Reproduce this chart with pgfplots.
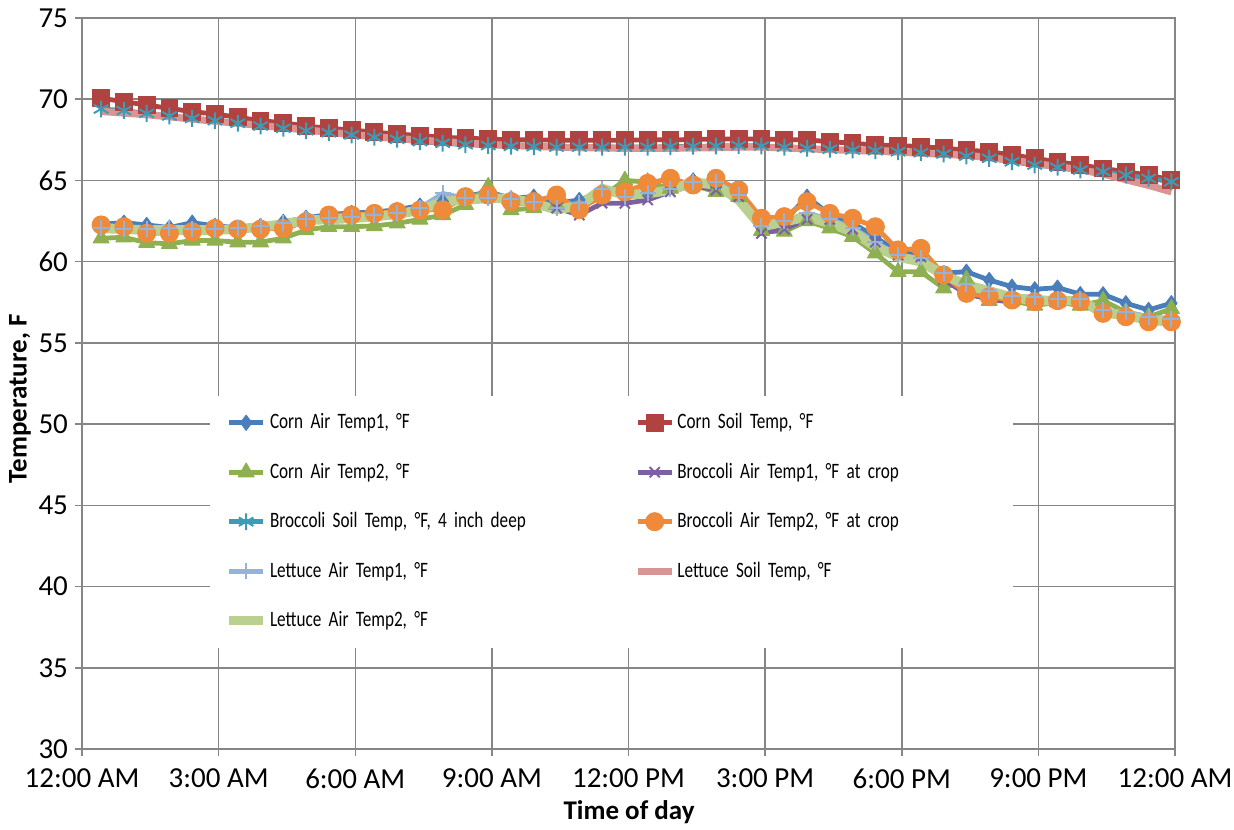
\documentclass[border=0pt]{standalone}
\usepackage{pgfplots}
\pgfplotsset{compat=1.18}
\usepackage{pgfplotstable}
\usepackage{fontspec}
\setmainfont{Carlito}
\newfontfamily\legfont[FakeStretch=0.78]{Carlito}

\definecolor{gridgray}{HTML}{868686}
\definecolor{cA}{HTML}{4A7EBB}
\definecolor{cS}{HTML}{B0423F}
\definecolor{cB}{HTML}{8FB050}
\definecolor{bA}{HTML}{7D60A0}
\definecolor{bS}{HTML}{3E9BB5}
\definecolor{bB}{HTML}{EE8A3A}
\definecolor{lA}{HTML}{95B3D7}
\definecolor{lS}{HTML}{D99594}
\definecolor{lB}{HTML}{B9D091}

\pgfplotstableread{
t ca1 cs ca2 ba1 bs ba2 la1 ls la2
0.42 62.3 70.06 61.44 62.3 69.4 62.26 62.1 69.25 62.05
0.92 62.4 69.85 61.5 62.0 69.3 62.15 62.0 69.15 62.0
1.42 62.26 69.64 61.17 61.9 69.13 61.75 62.0 69.05 61.95
1.92 62.1 69.44 61.1 61.8 68.97 61.75 62.05 68.92 61.95
2.42 62.4 69.23 61.3 61.9 68.82 61.85 62.0 68.78 61.95
2.92 62.2 69.09 61.3 62.0 68.68 62.05 62.0 68.65 61.95
3.42 62.1 68.89 61.2 61.95 68.52 62.0 62.05 68.52 62.0
3.92 62.2 68.68 61.2 62.0 68.35 62.0 62.2 68.38 62.15
4.42 62.45 68.55 61.44 62.1 68.21 62.05 62.35 68.25 62.3
4.92 62.7 68.35 61.95 62.4 68.06 62.46 62.6 68.11 62.55
5.42 62.9 68.21 62.15 62.7 67.94 62.87 62.7 67.97 62.6
5.92 63.0 68.11 62.15 62.8 67.80 62.87 62.75 67.83 62.67
6.42 63.05 67.97 62.2 62.85 67.66 62.97 62.85 67.69 62.77
6.92 63.2 67.86 62.36 62.95 67.53 63.08 63.0 67.58 62.92
7.42 63.45 67.76 62.6 63.2 67.39 63.18 63.3 67.48 63.18
7.92 63.7 67.66 62.87 63.3 67.29 63.2 64.2 67.39 63.69
8.42 64.0 67.6 63.5 63.9 67.2 64.0 63.9 67.3 63.8
8.92 64.3 67.55 64.62 64.0 67.15 64.1 63.95 67.22 63.9
9.42 63.9 67.5 63.18 63.6 67.1 63.7 63.85 67.15 63.9
9.92 64.0 67.5 63.3 63.6 67.08 63.7 63.7 67.1 63.6
10.42 63.6 67.48 63.5 63.3 67.05 64.1 63.3 67.05 63.2
10.92 63.8 67.48 63.3 62.87 67.05 63.2 63.6 67.02 63.45
11.42 64.3 67.48 64.0 63.6 67.05 64.1 64.5 67.0 64.5
11.92 64.2 67.48 65.0 63.59 67.05 64.3 64.0 66.98 64.1
12.42 64.4 67.5 64.9 63.8 67.05 64.82 64.2 66.98 64.2
12.92 64.7 67.5 64.5 64.3 67.08 65.13 64.5 66.98 64.4
13.42 65.0 67.52 64.7 64.7 67.1 64.72 64.9 67.0 64.9
13.92 64.6 67.55 64.3 64.4 67.12 65.13 64.9 67.02 64.72
14.42 64.2 67.55 64.0 64.0 67.15 64.41 64.1 67.05 63.8
14.92 62.5 67.55 61.9 61.74 67.12 62.67 62.2 67.05 62.15
15.42 62.5 67.52 61.85 62.0 67.05 62.77 62.5 67.0 62.46
15.92 64.0 67.49 62.5 62.6 66.98 63.69 63.0 66.95 62.77
16.42 62.9 67.39 62.05 62.6 66.92 62.97 62.6 66.9 62.36
16.92 62.4 67.29 61.54 62.0 66.87 62.67 62.1 66.85 61.85
17.42 61.5 67.18 60.51 61.2 66.83 62.15 61.2 66.8 60.92
17.92 60.6 67.15 59.38 60.4 66.77 60.72 60.4 66.75 60.3
18.42 60.4 67.08 59.38 60.3 66.71 60.82 60.2 66.68 60.0
18.92 59.3 66.98 58.36 58.9 66.63 59.18 59.3 66.6 59.18
19.42 59.38 66.87 58.9 58.0 66.50 58.05 58.6 66.55 58.57
19.92 58.87 66.77 57.6 57.7 66.36 57.84 58.2 66.4 58.2
20.42 58.46 66.57 57.6 57.5 66.15 57.64 57.9 66.25 57.8
20.92 58.3 66.36 57.3 57.6 65.95 57.54 57.8 66.05 57.6
21.42 58.4 66.15 57.5 57.5 65.81 57.6 57.7 65.85 57.6
21.92 58.0 65.95 57.3 57.5 65.64 57.54 57.7 65.65 57.6
22.42 57.99 65.74 57.6 56.9 65.54 56.82 57.0 65.4 56.85
22.92 57.44 65.54 56.9 56.6 65.33 56.61 56.9 65.05 56.7
23.42 57.03 65.33 56.6 56.3 65.13 56.3 56.6 64.7 56.4
23.92 57.44 65.03 57.1 56.3 64.92 56.3 56.5 64.3 56.3
}\data

\begin{document}
\begin{tikzpicture}
\begin{axis}[
  name=ax,
  scale only axis,
  width=546.5pt, height=365.5pt,
  xmin=0, xmax=24, ymin=30, ymax=75,
  xtick={0,3,...,24},
  xticklabels={12:00 AM,3:00 AM,6:00 AM,9:00 AM,12:00 PM,3:00 PM,6:00 PM,9:00 PM,12:00 AM},
  ytick={30,35,...,75},
  /pgf/number format/assume math mode=true,
  ticklabel style={font=\fontsize{14.5}{17}\selectfont},
  xticklabel style={yshift=-3pt},
  grid=major,
  major grid style={gridgray, line width=0.75pt},
  axis line style={gridgray, line width=0.75pt},
  tick style={gridgray, line width=0.75pt},
  tick align=outside, major tick length=3.5pt,
  tick pos=left,
  clip=false,
  xlabel={Time of day},
  ylabel={Temperature, F},
  every axis x label/.style={at={(axis description cs:0.5005,-0.0862)}, anchor=center, font=\bfseries\fontsize{13.5}{16}\selectfont},
  every axis y label/.style={at={(axis description cs:-0.0567,0.479)}, anchor=center, rotate=90, font=\bfseries\fontsize{13.5}{16}\selectfont},
  legend columns=2,
  legend cell align=left,
  legend style={at={(0.117,0.484)}, anchor=north west, fill=white, draw=none,
    font=\legfont\fontsize{11}{13}\selectfont,
    nodes={text width=160pt, inner sep=1pt},
    /tikz/row sep=13.6pt,
    /tikz/column 2/.style={column sep=21pt},
    inner xsep=7pt, inner ysep=8pt},
  every axis plot/.append style={line join=round},
]
\addplot[cA, line width=2.4pt, mark=diamond*, mark size=3.8pt, mark options={fill=cA, draw=cA, line width=0.5pt}] table[x=t,y=ca1]{\data};
\addplot[cS, line width=2.4pt, mark=square*, mark size=4.2pt, mark options={fill=cS, draw=cS, line width=0.5pt}] table[x=t,y=cs]{\data};
\addplot[cB, line width=2.4pt, mark=triangle*, mark size=4.6pt, mark options={fill=cB, draw=cB, line width=0.5pt}] table[x=t,y=ca2]{\data};
\addplot[bA, line width=2.4pt, mark=x, mark size=3.6pt, mark options={draw=bA, line width=1pt}] table[x=t,y=ba1]{\data};
\addplot[bS, line width=2.4pt, mark=asterisk, mark size=4.2pt, mark options={draw=bS, line width=1pt}] table[x=t,y=bs]{\data};
\addplot[bB, line width=2.4pt, mark=*, mark size=4.5pt, mark options={fill=bB, draw=bB, line width=0.5pt}] table[x=t,y=ba2]{\data};
\addplot[lA, line width=2.4pt, mark=+, mark size=4pt, mark options={draw=lA, line width=1pt}] table[x=t,y=la1]{\data};
\addplot[lS, line width=3.6pt, mark=none] table[x=t,y=ls]{\data};
\addplot[lB, line width=4.8pt, mark=none] table[x=t,y=la2]{\data};
\legend{Corn Air Temp1\char44{} °F, Corn Soil Temp\char44{} °F, Corn Air Temp2\char44{} °F, Broccoli Air Temp1\char44{} °F at crop, Broccoli Soil Temp\char44{} °F\char44{} 4 inch deep, Broccoli Air Temp2\char44{} °F at crop, Lettuce Air Temp1\char44{} °F, Lettuce Soil Temp\char44{} °F, Lettuce Air Temp2\char44{} °F}
\end{axis}
\pgfresetboundingbox
\useasboundingbox ([shift={(-41pt,-40pt)}]ax.south west) rectangle ([shift={(29.5pt,9pt)}]ax.north east);
\end{tikzpicture}
\end{document}
